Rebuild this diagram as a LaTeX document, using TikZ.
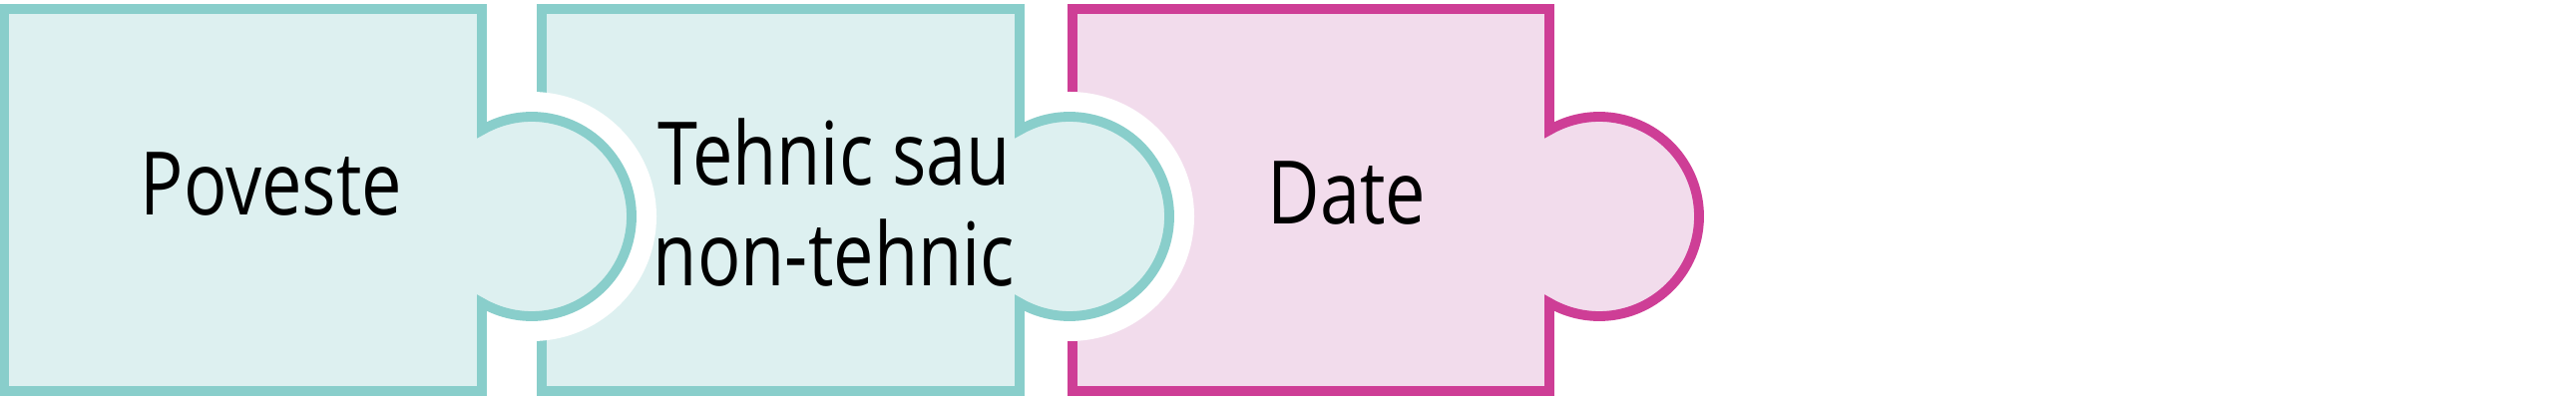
\documentclass[tikz,border=0pt]{standalone}
\usepackage{fontspec}
\setmainfont{Open Sans}
\definecolor{tealline}{RGB}{137,206,203}
\definecolor{tealfill}{RGB}{221,240,240}
\definecolor{pinkline}{RGB}{206,62,150}
\definecolor{pinkfill}{RGB}{242,220,236}
\newcommand{\narrowtext}[1]{\scalebox{0.82}[1]{#1}}
\begin{document}
\begin{tikzpicture}[x=0.01cm,y=0.01cm,
		tealpiece/.style={draw=tealline,fill=tealfill,line width=2.8pt},
		pinkpiece/.style={draw=pinkline,fill=pinkfill,line width=2.8pt},
		halo/.style={fill=white},
		piecetext/.style={font=\fontsize{25}{29}\selectfont,anchor=base,align=center,inner sep=0pt}]
		\useasboundingbox (0,0) rectangle (2582,400);
		% pieces from right to left, each knob cuts a white notch
		\draw[pinkpiece](1075,391)--(1553,391)--(1553,269.6) arc[start angle=120,end angle=-120,radius=100]--(1553,8)--(1075,8)--cycle;
		\fill[halo](1072,183) circle[radius=125];
		\draw[tealpiece](543,391)--(1022,391)--(1022,269.6) arc[start angle=120,end angle=-120,radius=100]--(1022,8)--(543,8)--cycle;
		\fill[halo](533,183) circle[radius=125];
		\draw[tealpiece](4,391)--(483,391)--(483,269.6) arc[start angle=120,end angle=-120,radius=100]--(483,8)--(4,8)--cycle;
		\node[piecetext] (poveste) at (272,184) {\narrowtext{Poveste}};
		\node[piecetext] (tehnic) at (836,113) {\narrowtext{Tehnic sau}\\\narrowtext{non-tehnic}};
		\node[piecetext] (date) at (1350,175) {\narrowtext{Date}};
	\end{tikzpicture}
\end{document}
